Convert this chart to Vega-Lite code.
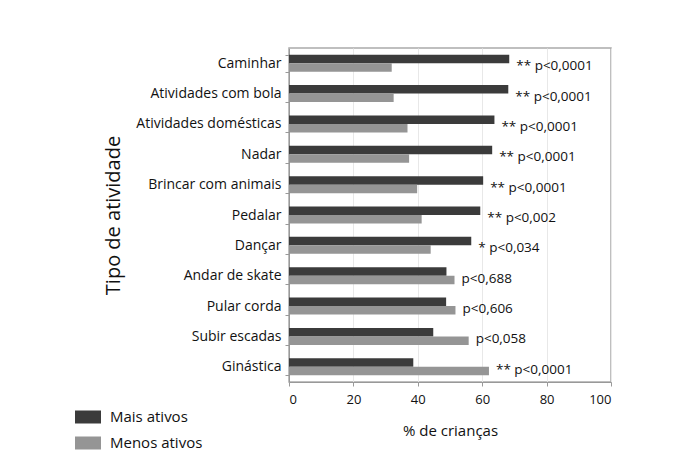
{
  "$schema": "https://vega.github.io/schema/vega-lite/v6.json",
  "width": 322,
  "height": 334,
  "autosize": {"type": "none"},
  "padding": {"left": 289, "top": 48, "right": 72, "bottom": 87},
  "background": "white",
  "config": {
    "font": "Open Sans",
    "view": {"stroke": "#aaaaaa", "strokeWidth": 1.5},
    "axis": {"labelFont": "Open Sans", "titleFont": "Open Sans", "labelColor": "#111", "titleColor": "#111", "domainColor": "#999", "tickColor": "#999", "titleFontWeight": "normal"}
  },
  "data": {
    "values": [
      {"atividade": "Caminhar", "grupo": "Mais ativos", "valor": 68.4, "rotulo": "** p<0,0001"},
      {"atividade": "Caminhar", "grupo": "Menos ativos", "valor": 31.9, "rotulo": "** p<0,0001"},
      {"atividade": "Atividades com bola", "grupo": "Mais ativos", "valor": 68.1, "rotulo": "** p<0,0001"},
      {"atividade": "Atividades com bola", "grupo": "Menos ativos", "valor": 32.5, "rotulo": "** p<0,0001"},
      {"atividade": "Atividades domésticas", "grupo": "Mais ativos", "valor": 63.8, "rotulo": "** p<0,0001"},
      {"atividade": "Atividades domésticas", "grupo": "Menos ativos", "valor": 36.8, "rotulo": "** p<0,0001"},
      {"atividade": "Nadar", "grupo": "Mais ativos", "valor": 63.1, "rotulo": "** p<0,0001"},
      {"atividade": "Nadar", "grupo": "Menos ativos", "valor": 37.3, "rotulo": "** p<0,0001"},
      {"atividade": "Brincar com animais", "grupo": "Mais ativos", "valor": 60.3, "rotulo": "** p<0,0001"},
      {"atividade": "Brincar com animais", "grupo": "Menos ativos", "valor": 39.8, "rotulo": "** p<0,0001"},
      {"atividade": "Pedalar", "grupo": "Mais ativos", "valor": 59.4, "rotulo": "** p<0,002"},
      {"atividade": "Pedalar", "grupo": "Menos ativos", "valor": 41.2, "rotulo": "** p<0,002"},
      {"atividade": "Dançar", "grupo": "Mais ativos", "valor": 56.6, "rotulo": "* p<0,034"},
      {"atividade": "Dançar", "grupo": "Menos ativos", "valor": 44.0, "rotulo": "* p<0,034"},
      {"atividade": "Andar de skate", "grupo": "Mais ativos", "valor": 48.9, "rotulo": "p<0,688"},
      {"atividade": "Andar de skate", "grupo": "Menos ativos", "valor": 51.4, "rotulo": "p<0,688"},
      {"atividade": "Pular corda", "grupo": "Mais ativos", "valor": 48.8, "rotulo": "p<0,606"},
      {"atividade": "Pular corda", "grupo": "Menos ativos", "valor": 51.7, "rotulo": "p<0,606"},
      {"atividade": "Subir escadas", "grupo": "Mais ativos", "valor": 44.8, "rotulo": "p<0,058"},
      {"atividade": "Subir escadas", "grupo": "Menos ativos", "valor": 55.8, "rotulo": "p<0,058"},
      {"atividade": "Ginástica", "grupo": "Mais ativos", "valor": 38.6, "rotulo": "** p<0,0001"},
      {"atividade": "Ginástica", "grupo": "Menos ativos", "valor": 62.1, "rotulo": "** p<0,0001"}
    ]
  },
  "encoding": {
    "y": {
      "field": "atividade", "type": "nominal",
      "sort": ["Caminhar", "Atividades com bola", "Atividades domésticas", "Nadar", "Brincar com animais", "Pedalar", "Dançar", "Andar de skate", "Pular corda", "Subir escadas", "Ginástica"],
      "scale": {"paddingInner": 0.44, "paddingOuter": 0.22},
      "axis": {"title": "Tipo de atividade", "titleFontSize": 20, "titlePadding": 12, "labelFontSize": 14, "tickSize": 4, "labelPadding": 4, "tickBand": "extent"}
    }
  },
  "layer": [
    {
      "mark": {"type": "bar"},
      "encoding": {
        "x": {
          "field": "valor", "type": "quantitative",
          "scale": {"domain": [0, 100], "nice": false},
          "axis": {"title": "% de crianças", "titleFontSize": 15, "titlePadding": 17, "labelFontSize": 13, "tickSize": 4, "labelPadding": 7, "values": [0, 20, 40, 60, 80, 100], "gridColor": "#e8e8e8", "grid": true}
        },
        "yOffset": {"field": "grupo", "type": "nominal", "sort": ["Mais ativos", "Menos ativos"]},
        "color": {
          "field": "grupo", "type": "nominal",
          "scale": {"domain": ["Mais ativos", "Menos ativos"], "range": ["#3b3b3b", "#959595"]},
          "legend": {
            "title": null, "orient": "none", "legendX": -214, "legendY": 356,
            "symbolType": "M-1,-0.5L1,-0.5L1,0.5L-1,0.5Z", "symbolSize": 676,
            "symbolStrokeWidth": 0, "labelFontSize": 15, "labelOffset": 9, "rowPadding": 5,
            "labelFont": "Open Sans", "labelColor": "#111"
          }
        }
      }
    },
    {
      "transform": [{"aggregate": [{"op": "max", "field": "valor", "as": "maxvalor"}], "groupby": ["atividade", "rotulo"]}],
      "mark": {"type": "text", "align": "left", "baseline": "middle", "dx": 7, "dy": 3, "fontSize": 13.5, "color": "#111"},
      "encoding": {
        "x": {"field": "maxvalor", "type": "quantitative"},
        "text": {"field": "rotulo"}
      }
    }
  ]
}
